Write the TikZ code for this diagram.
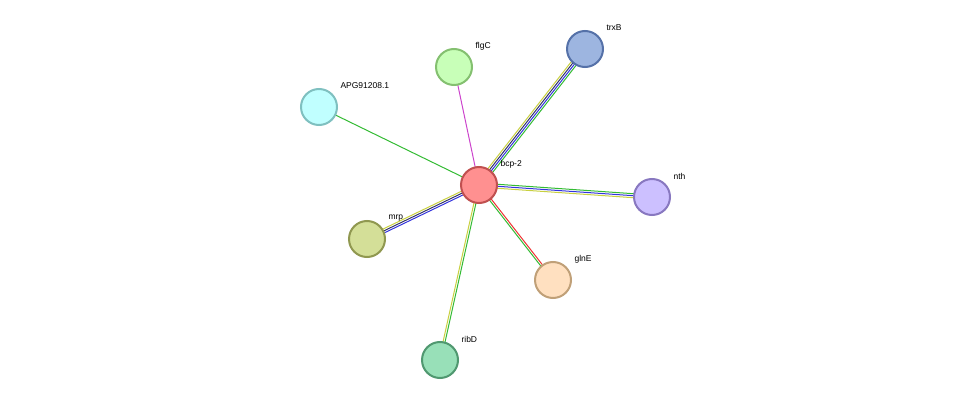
\documentclass[tikz,border=0pt]{standalone}
\usepackage{fontspec}
\setmainfont{Liberation Sans}
\usetikzlibrary{calc}
\definecolor{eGreen}{HTML}{33BB33}
\definecolor{eBlue}{HTML}{3333DD}
\definecolor{eDark}{HTML}{333366}
\definecolor{eYellow}{HTML}{C8D040}
\definecolor{eRed}{HTML}{EE3333}
\definecolor{eMag}{HTML}{CC44CC}
\definecolor{fTrxB}{HTML}{9DB5E0}\definecolor{dTrxB}{HTML}{5571A8}
\definecolor{fFlgC}{HTML}{C8FFB8}\definecolor{dFlgC}{HTML}{84C070}
\definecolor{fApg}{HTML}{C0FFFF}\definecolor{dApg}{HTML}{7FC0C0}
\definecolor{fNth}{HTML}{CCC0FF}\definecolor{dNth}{HTML}{8878C0}
\definecolor{fMrp}{HTML}{D4DF98}\definecolor{dMrp}{HTML}{909850}
\definecolor{fGlnE}{HTML}{FFE0C0}\definecolor{dGlnE}{HTML}{C0A078}
\definecolor{fRibD}{HTML}{98E0B8}\definecolor{dRibD}{HTML}{509870}
\definecolor{fBcp}{HTML}{FF9090}\definecolor{dBcp}{HTML}{C05050}
\tikzset{
  prot/.style={circle,minimum size=36pt,inner sep=0pt,line width=2pt},
  lab/.style={anchor=west,font=\fontsize{8.5}{10}\selectfont},
  edge/.style={line width=1pt}
}
\newcommand{\edge}[4]{\draw[edge,#4] ($(#1)!#3!90:(#2)$) -- ($(#2)!#3!-90:(#1)$);}
\newcommand{\prot}[5]{%
  \node[prot,fill=#4,draw=#5] (#1) at (#2) {};
  \node[lab] (#1-lab) at ($(#2)+(18,-21)$) {#3};}
\begin{document}
\begin{tikzpicture}[x=1pt,y=-1pt]
\useasboundingbox (0,0) rectangle (975,406);
\coordinate (bcp) at (479,185);
\coordinate (trxB) at (585,49);
\coordinate (flgC) at (454,67);
\coordinate (apg) at (319,107);
\coordinate (nth) at (652,197);
\coordinate (mrp) at (367,239);
\coordinate (glnE) at (553,280);
\coordinate (ribD) at (440,360);
% edges
\edge{bcp}{trxB}{-3pt}{eGreen}
\edge{bcp}{trxB}{-1pt}{eBlue}
\edge{bcp}{trxB}{1pt}{eDark}
\edge{bcp}{trxB}{3pt}{eYellow}
\edge{bcp}{flgC}{0pt}{eMag}
\edge{bcp}{apg}{0pt}{eGreen}
\edge{bcp}{nth}{-2pt}{eYellow}
\edge{bcp}{nth}{0pt}{eBlue}
\edge{bcp}{nth}{2pt}{eGreen}
\edge{bcp}{mrp}{2pt}{eBlue}
\edge{bcp}{mrp}{0pt}{eDark}
\edge{bcp}{mrp}{-2pt}{eYellow}
\edge{bcp}{glnE}{1pt}{eRed}
\edge{bcp}{glnE}{-1pt}{eGreen}
\edge{bcp}{ribD}{1pt}{eGreen}
\edge{bcp}{ribD}{-1pt}{eYellow}
% proteins
\prot{n-trxB}{trxB}{trxB}{fTrxB}{dTrxB}
\prot{n-flgC}{flgC}{flgC}{fFlgC}{dFlgC}
\prot{n-apg}{apg}{APG91208.1}{fApg}{dApg}
\prot{n-nth}{nth}{nth}{fNth}{dNth}
\prot{n-mrp}{mrp}{mrp}{fMrp}{dMrp}
\prot{n-glnE}{glnE}{glnE}{fGlnE}{dGlnE}
\prot{n-ribD}{ribD}{ribD}{fRibD}{dRibD}
\prot{n-bcp}{bcp}{bcp-2}{fBcp}{dBcp}
\end{tikzpicture}
\end{document}
